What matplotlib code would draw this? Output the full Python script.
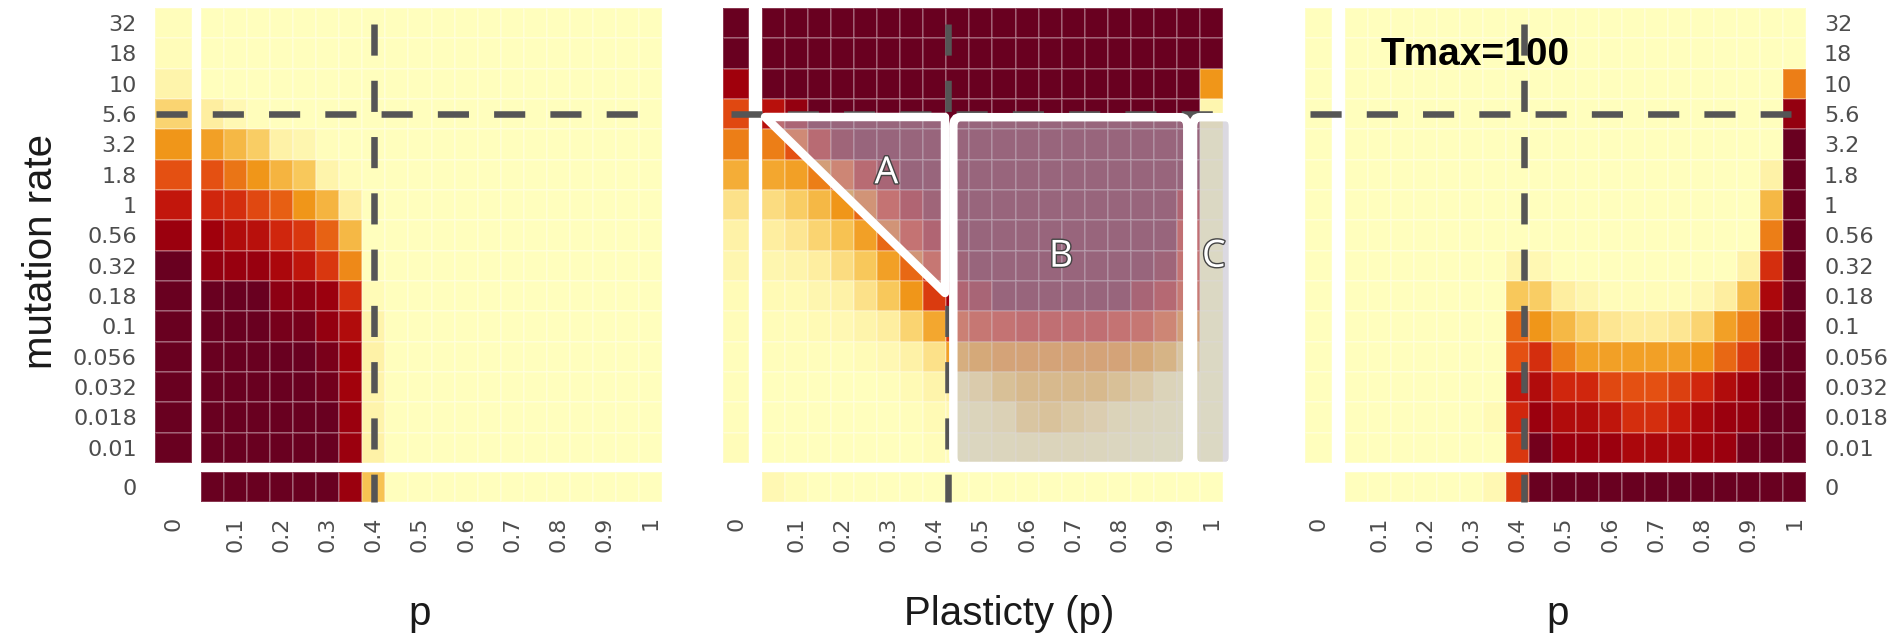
import numpy as np
import matplotlib
matplotlib.use('Agg')
import matplotlib.pyplot as plt
from matplotlib.colors import LinearSegmentedColormap
from matplotlib.patches import Polygon, FancyBboxPatch
import matplotlib.patheffects as pe

# mutation rates, top row first
rates = ["32", "18", "10", "5.6", "3.2", "1.8", "1", "0.56", "0.32",
         "0.18", "0.1", "0.056", "0.032", "0.018", "0.01"]
p_labels = ["0.1", "0.2", "0.3", "0.4", "0.5", "0.6", "0.7", "0.8", "0.9", "1"]

# ---- left panel ----
left_p0 = [0.02, 0.03, 0.1, 0.25, 0.45, 0.6, 0.75, 0.86, 1, 1, 1, 1, 1, 1, 1]
left_zero = [1, 1, 1, 1, 1, 1, 0.86, 0.32] + [0.01] * 12
left_grid = [
    [0.01] * 20,
    [0.01] * 20,
    [0.01] * 20,
    [0.15, 0.06, 0.02] + [0.01] * 17,
    [0.42, 0.35, 0.28, 0.12, 0.08, 0.02] + [0.01] * 14,
    [0.6, 0.52, 0.45, 0.36, 0.3, 0.1, 0.03] + [0.01] * 13,
    [0.7, 0.68, 0.62, 0.57, 0.45, 0.36, 0.15] + [0.01] * 13,
    [0.85, 0.8, 0.78, 0.7, 0.66, 0.56, 0.35] + [0.01] * 13,
    [0.88, 0.87, 0.87, 0.82, 0.76, 0.66, 0.48, 0.01] + [0.01] * 12,
    [1, 1, 1, 0.9, 0.9, 0.86, 0.68, 0.04] + [0.01] * 12,
    [1, 1, 1, 0.96, 0.96, 0.88, 0.8, 0.1] + [0.01] * 12,
    [1, 1, 1, 1, 1, 0.95, 0.84, 0.12] + [0.01] * 12,
    [1, 1, 1, 1, 1, 0.97, 0.84, 0.1] + [0.01] * 12,
    [1, 1, 1, 1, 1, 1, 0.86, 0.1] + [0.01] * 12,
    [1, 1, 1, 1, 1, 1, 0.86, 0.12] + [0.01] * 12,
]

# ---- middle panel ----
mid_p0 = [1, 1, 0.85, 0.62, 0.5, 0.38, 0.2, 0.12, 0.08, 0.04, 0.03, 0.02, 0.02, 0.02, 0.03]
mid_zero = [0.06, 0.03] + [0.01] * 18
mid_grid = [
    [1] * 20,
    [1] * 20,
    [1] * 19 + [0.45],
    [0.78, 0.88] + [1] * 17 + [0.08],
    [0.5, 0.6, 0.8, 0.95] + [1] * 15 + [0.01],
    [0.4, 0.42, 0.5, 0.62, 0.8, 0.9] + [1] * 13 + [0.01],
    [0.22, 0.28, 0.35, 0.45, 0.55, 0.72, 0.85, 0.95] + [1] * 10 + [0.85, 0.01],
    [0.15, 0.18, 0.25, 0.32, 0.42, 0.55, 0.72, 0.85] + [1] * 10 + [0.75, 0.01],
    [0.08, 0.1, 0.15, 0.22, 0.3, 0.42, 0.55, 0.7, 0.95] + [1] * 8 + [0.95, 0.72, 0.01],
    [0.05, 0.05, 0.08, 0.12, 0.2, 0.3, 0.45, 0.65, 0.85, 0.9, 1, 1, 1, 1, 1, 1, 0.9, 0.82, 0.68, 0.01],
    [0.03, 0.03, 0.05, 0.06, 0.1, 0.15, 0.25, 0.4, 0.65, 0.7, 0.72, 0.75, 0.75, 0.75, 0.75, 0.72, 0.7, 0.62, 0.5, 0.01],
    [0.02, 0.02, 0.02, 0.02, 0.04, 0.06, 0.12, 0.2, 0.42, 0.45, 0.48, 0.48, 0.48, 0.48, 0.48, 0.48, 0.45, 0.38, 0.25, 0.01],
    [0.01, 0.01, 0.01, 0.01, 0.01, 0.02, 0.05, 0.1, 0.15, 0.2, 0.3, 0.35, 0.35, 0.35, 0.35, 0.3, 0.22, 0.12, 0.08, 0.01],
    [0.01, 0.01, 0.01, 0.01, 0.01, 0.01, 0.02, 0.05, 0.06, 0.1, 0.15, 0.25, 0.28, 0.22, 0.18, 0.12, 0.08, 0.05, 0.03, 0.01],
    [0.01, 0.01, 0.01, 0.01, 0.01, 0.01, 0.01, 0.03, 0.03, 0.05, 0.08, 0.1, 0.1, 0.1, 0.08, 0.05, 0.03, 0.02, 0.02, 0.01],
]

# ---- right panel ----
right_p0 = [0.01] * 15
right_zero = [0.01] * 6 + [0.06, 0.65] + [1] * 12
right_grid = [
    [0.01] * 20,
    [0.01] * 20,
    [0.01] * 19 + [0.5],
    [0.01] * 19 + [0.88],
    [0.01] * 19 + [1],
    [0.01] * 18 + [0.12, 1],
    [0.01] * 18 + [0.35, 1],
    [0.01] * 18 + [0.5, 1],
    [0.01] * 7 + [0.1, 0.06] + [0.01] * 8 + [0.12, 0.68, 1],
    [0.01] * 7 + [0.3, 0.28, 0.15, 0.08, 0.03, 0.03, 0.03, 0.03, 0.06, 0.15, 0.33, 0.82, 1],
    [0.01] * 7 + [0.55, 0.45, 0.35, 0.26, 0.18, 0.16, 0.16, 0.18, 0.25, 0.42, 0.5, 0.95, 1],
    [0.01] * 7 + [0.6, 0.68, 0.5, 0.42, 0.42, 0.42, 0.42, 0.42, 0.45, 0.55, 0.65, 1, 1],
    [0.01] * 7 + [0.75, 0.8, 0.7, 0.7, 0.62, 0.6, 0.6, 0.64, 0.7, 0.8, 0.86, 1, 1],
    [0.01] * 6 + [0.05, 0.7, 0.86, 0.8, 0.8, 0.76, 0.68, 0.68, 0.74, 0.82, 0.86, 0.88, 1, 1],
    [0.01] * 7 + [0.66, 0.97, 0.86, 0.86, 0.86, 0.82, 0.82, 0.82, 0.84, 0.86, 0.97, 1, 1],
]

cmap = LinearSegmentedColormap.from_list("heat", [
    (0.0, "#FFFFBF"), (0.15, "#FEEEA0"), (0.3, "#F8C85A"), (0.45, "#F09619"),
    (0.6, "#E45012"), (0.72, "#CD1E0C"), (0.85, "#A0000C"), (1.0, "#690020")])

W, H = 1895, 637
CW, RH, TOP = 23.05, 30.33, 8
ZTOP, ZBOT = 15.3, 16.3
DASH = dict(color='#555555', lw=4.7, ls=(0, (4.77, 3.85)), solid_capstyle='butt',
            clip_on=False, zorder=3)
TICK_COLOR = '#4d4d4d'

fig = plt.figure(figsize=(W / 100, H / 100), dpi=100)


def draw_panel(x0, p0_edges, p0_vals, zero_vals, grid, side):
    left = x0 + p0_edges[0] * CW
    ax = fig.add_axes([left / W, 1 - (TOP + ZBOT * RH) / H,
                       (x0 + 20 * CW - left) / W, ZBOT * RH / H])
    ax.set_xlim(p0_edges[0], 20)
    ax.set_ylim(ZBOT, 0)
    kw = dict(cmap=cmap, vmin=0, vmax=1, edgecolors=(1, 1, 1, 0.22), linewidth=1.3)
    ax.pcolormesh(np.arange(21), np.arange(16), np.array(grid), **kw)
    ax.pcolormesh(p0_edges, np.arange(16), np.array(p0_vals).reshape(15, 1), **kw)
    ax.pcolormesh(np.arange(21), [ZTOP, ZBOT], np.array(zero_vals).reshape(1, 20), **kw)

    ax.set_xticks([np.mean(p0_edges)] + [1.5 + 2 * k for k in range(10)])
    ax.set_xticklabels(["0"] + p_labels, rotation=90)
    if side is None:
        ax.set_yticks([])
    else:
        ax.set_yticks([r + 0.5 for r in range(15)] + [(ZTOP + ZBOT) / 2])
        ax.set_yticklabels(rates + ["0"])
        if side == 'right':
            ax.yaxis.tick_right()
    ax.tick_params(length=0, labelsize=16, labelcolor=TICK_COLOR)
    ax.tick_params(axis='x', pad=10)
    ax.tick_params(axis='y', pad=13)
    for s in ax.spines.values():
        s.set_visible(False)
    return ax


ax1 = draw_panel(201, [-2.0, -0.39], left_p0, left_zero, left_grid, 'left')
ax2 = draw_panel(762, [-1.69, -0.56], mid_p0, mid_zero, mid_grid, None)
ax3 = draw_panel(1345, [-1.74, -0.56], right_p0, right_zero, right_grid, 'right')

# reference lines (p = 0.4, mutation rate = 5.6)
ax1.plot([-1.95, 19.05], [3.5, 3.5], **DASH)
ax1.plot([7.5, 7.5], [0.53, ZBOT], **DASH)
ax2.plot([-1.34, 20.4], [3.5, 3.5], **DASH)
ax2.plot([8.08, 8.08], [0.53, ZBOT], **DASH)
ax3.plot([-1.54, 19.37], [3.5, 3.5], **DASH)
ax3.plot([7.76, 7.76], [0.53, ZBOT], **DASH)

ax3.text(1.56, 1.55, "Tmax=100", fontsize=28, fontweight='bold', family='Liberation Sans',
         ha='left', va='center', color='black', zorder=2)

# overlays on the middle panel
shade = (0.75, 0.73, 0.79, 0.55)
tri = Polygon([[0.13, 3.6], [7.95, 3.6], [7.95, 9.4]], closed=True, facecolor=shade,
              edgecolor='white', lw=6.1, joinstyle='round', zorder=4, clip_on=False)
ax2.add_patch(tri)
box_b = FancyBboxPatch((8.3, 3.6), 18.45 - 8.3, 15.1 - 3.6,
                       boxstyle="round,pad=0,rounding_size=0.3", facecolor=shade,
                       edgecolor='white', lw=6.1, zorder=4, clip_on=False)
ax2.add_patch(box_b)
box_c = FancyBboxPatch((18.7, 3.6), 20.43 - 18.7, 15.1 - 3.6,
                       boxstyle="round,pad=0,rounding_size=0.3", facecolor=shade,
                       edgecolor='white', lw=6.1, zorder=4, clip_on=False)
ax2.add_patch(box_c)
for lab, x, y in [("A", 5.4, 5.45), ("B", 12.97, 8.2), ("C", 19.6, 8.2)]:
    ax2.text(x, y, lab, fontsize=27, color='white', ha='center', va='center', zorder=5,
             family='Open Sans',
             path_effects=[pe.withStroke(linewidth=2, foreground='#444444')])

lab = dict(fontsize=29, color='#1a1a1a', family='Liberation Sans', ha='center', va='center')
fig.text(41 / W, 1 - 252 / H, "mutation rate", rotation=90, **lab)
fig.text(420 / W, 1 - 614 / H, "p", **lab)
fig.text(1009 / W, 1 - 614 / H, "Plasticty (p)", **lab)
fig.text(1558 / W, 1 - 614 / H, "p", **lab)

plt.savefig("out.png", dpi=100, facecolor='white')
